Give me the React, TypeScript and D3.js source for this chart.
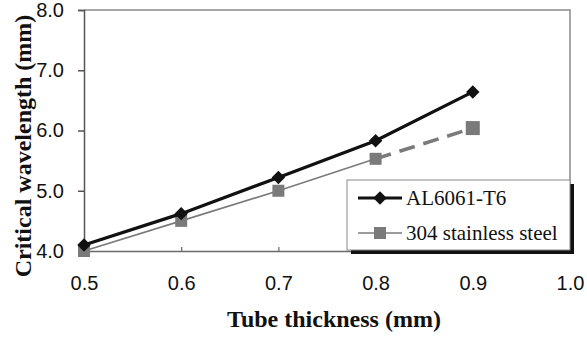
import React, { useRef, useEffect } from "react";
import * as d3 from "d3";

const chart_width = 587;
const chart_height = 337;

const thickness: number[] = [0.5, 0.6, 0.7, 0.8, 0.9];
const alValues: number[] = [4.1, 4.62, 5.22, 5.83, 6.64];
const steelValues: number[] = [4.0, 4.5, 5.0, 5.53, 6.04];
const xTicks: number[] = [0.5, 0.6, 0.7, 0.8, 0.9, 1.0];
const yTicks: number[] = [4.0, 5.0, 6.0, 7.0, 8.0];
const seriesNames: string[] = ["AL6061-T6", "304 stainless steel"];

const margin = { left: 84, right: 17, top: 10, bottom: 86 };
const SANS = "'Liberation Sans', Arial, Helvetica, sans-serif";
const SERIF = "'Liberation Serif', 'Times New Roman', Times, serif";

const App: React.FC = () => {
  const d3Container = useRef<SVGSVGElement>(null);

  useEffect(() => {
    if (!d3Container.current) return;
    const svg = d3.select(d3Container.current);
    svg.selectAll("*").remove();

    const x_scale = d3
      .scaleLinear()
      .domain([0.5, 1.0])
      .range([margin.left, chart_width - margin.right]);
    const y_scale = d3
      .scaleLinear()
      .domain([4.0, 8.0])
      .range([chart_height - margin.bottom, margin.top]);

    const x0 = x_scale(0.5);
    const x1 = x_scale(1.0);
    const y0 = y_scale(4.0);
    const y1 = y_scale(8.0);

    // frame (top + right)
    svg
      .append("path")
      .attr("d", `M${x0},${y1}H${x1}V${y0}`)
      .attr("fill", "none")
      .attr("stroke", "#8a8a8a")
      .attr("stroke-width", 1.5);

    // y axis
    const yAxis = d3
      .axisLeft(y_scale)
      .tickValues(yTicks)
      .tickFormat(d3.format(".1f"))
      .tickSize(6)
      .tickPadding(14);
    const gy = svg
      .append("g")
      .attr("transform", `translate(${x0},0)`)
      .call(yAxis);
    gy.select(".domain").attr("stroke", "#555").attr("stroke-width", 1.5);
    gy.selectAll(".tick line").attr("stroke", "#555").attr("stroke-width", 1.5);
    gy.selectAll(".tick text")
      .style("font-family", SANS)
      .style("font-size", "20px")
      .attr("fill", "#111");

    // x axis
    const xAxis = d3
      .axisBottom(x_scale)
      .tickValues(xTicks)
      .tickFormat(d3.format(".1f"))
      .tickSizeInner(-4)
      .tickSizeOuter(0)
      .tickPadding(25);
    const gx = svg
      .append("g")
      .attr("transform", `translate(0,${y0})`)
      .call(xAxis);
    gx.select(".domain").attr("stroke", "#6a6a6a").attr("stroke-width", 1.5);
    gx.selectAll(".tick line").attr("stroke", "#6a6a6a").attr("stroke-width", 1.2);
    gx.selectAll(".tick text")
      .style("font-family", SANS)
      .style("font-size", "20px")
      .attr("fill", "#111");

    const line = d3
      .line<[number, number]>()
      .x((d) => x_scale(d[0]))
      .y((d) => y_scale(d[1]));

    const alData: [number, number][] = thickness.map((t, i) => [t, alValues[i]]);
    const steelData: [number, number][] = thickness.map((t, i) => [t, steelValues[i]]);

    // steel: thin solid up to 0.8, thick dashed to 0.9
    svg
      .append("path")
      .datum(steelData.slice(0, 4))
      .attr("d", line)
      .attr("fill", "none")
      .attr("stroke", "#7a7a7a")
      .attr("stroke-width", 1.6);
    svg
      .append("path")
      .datum(steelData.slice(3))
      .attr("d", line)
      .attr("fill", "none")
      .attr("stroke", "#7a7a7a")
      .attr("stroke-width", 3.5)
      .attr("stroke-dasharray", "16,9");

    svg
      .selectAll("rect.steel")
      .data(steelData)
      .enter()
      .append("rect")
      .attr("class", "steel")
      .attr("x", (d, i) => x_scale(d[0]) - (i === 4 ? 7 : 6))
      .attr("y", (d, i) => y_scale(d[1]) - (i === 4 ? 7 : 6))
      .attr("width", (d, i) => (i === 4 ? 14 : 12))
      .attr("height", (d, i) => (i === 4 ? 14 : 12))
      .attr("fill", "#7a7a7a");

    svg
      .append("path")
      .datum(alData)
      .attr("d", line)
      .attr("fill", "none")
      .attr("stroke", "#111")
      .attr("stroke-width", 3.2);

    const diamond = d3.symbol().type(d3.symbolDiamond2).size(115);
    svg
      .selectAll("path.al")
      .data(alData)
      .enter()
      .append("path")
      .attr("class", "al")
      .attr("d", diamond)
      .attr("transform", (d) => `translate(${x_scale(d[0])},${y_scale(d[1])})`)
      .attr("fill", "#111");

    // legend
    const lg = svg.append("g");
    const lx = 347;
    const ly = 180;
    const lw = 223;
    const lh = 70;
    lg.append("rect")
      .attr("x", lx + 4)
      .attr("y", ly + 4)
      .attr("width", lw)
      .attr("height", lh)
      .attr("fill", "#111");
    lg.append("rect")
      .attr("x", lx)
      .attr("y", ly)
      .attr("width", lw)
      .attr("height", lh)
      .attr("fill", "#fff")
      .attr("stroke", "#888")
      .attr("stroke-width", 1);

    const rows = [ly + 18, ly + 53];
    lg.append("line")
      .attr("x1", 358)
      .attr("x2", 402)
      .attr("y1", rows[0])
      .attr("y2", rows[0])
      .attr("stroke", "#111")
      .attr("stroke-width", 3.2);
    lg.append("path")
      .attr("d", diamond)
      .attr("transform", `translate(380,${rows[0]})`)
      .attr("fill", "#111");
    lg.append("line")
      .attr("x1", 358)
      .attr("x2", 402)
      .attr("y1", rows[1])
      .attr("y2", rows[1])
      .attr("stroke", "#7a7a7a")
      .attr("stroke-width", 1.6);
    lg.append("rect")
      .attr("x", 374)
      .attr("y", rows[1] - 6)
      .attr("width", 12)
      .attr("height", 12)
      .attr("fill", "#7a7a7a");

    lg.selectAll("text")
      .data(seriesNames)
      .enter()
      .append("text")
      .attr("x", 406)
      .attr("y", (_, i) => rows[i] + 7)
      .style("font-family", SERIF)
      .style("font-size", "21px")
      .attr("fill", "#111")
      .text((d) => d);

    // axis titles
    svg
      .append("text")
      .attr("transform", `translate(31,${146}) rotate(-90)`)
      .attr("text-anchor", "middle")
      .style("font-family", SERIF)
      .style("font-weight", "bold")
      .style("font-size", "24px")
      .attr("fill", "#111")
      .text("Critical wavelength (mm)");

    svg
      .append("text")
      .attr("x", 334)
      .attr("y", 327)
      .attr("text-anchor", "middle")
      .style("font-family", SERIF)
      .style("font-weight", "bold")
      .style("font-size", "24px")
      .attr("fill", "#111")
      .text("Tube thickness (mm)");
  }, []);

  return (
    <div style={{ position: "absolute", left: 0, top: 0 }}>
      <svg ref={d3Container} width={chart_width} height={chart_height} style={{ display: "block", background: "#fff" }} />
    </div>
  );
};

export default App;
